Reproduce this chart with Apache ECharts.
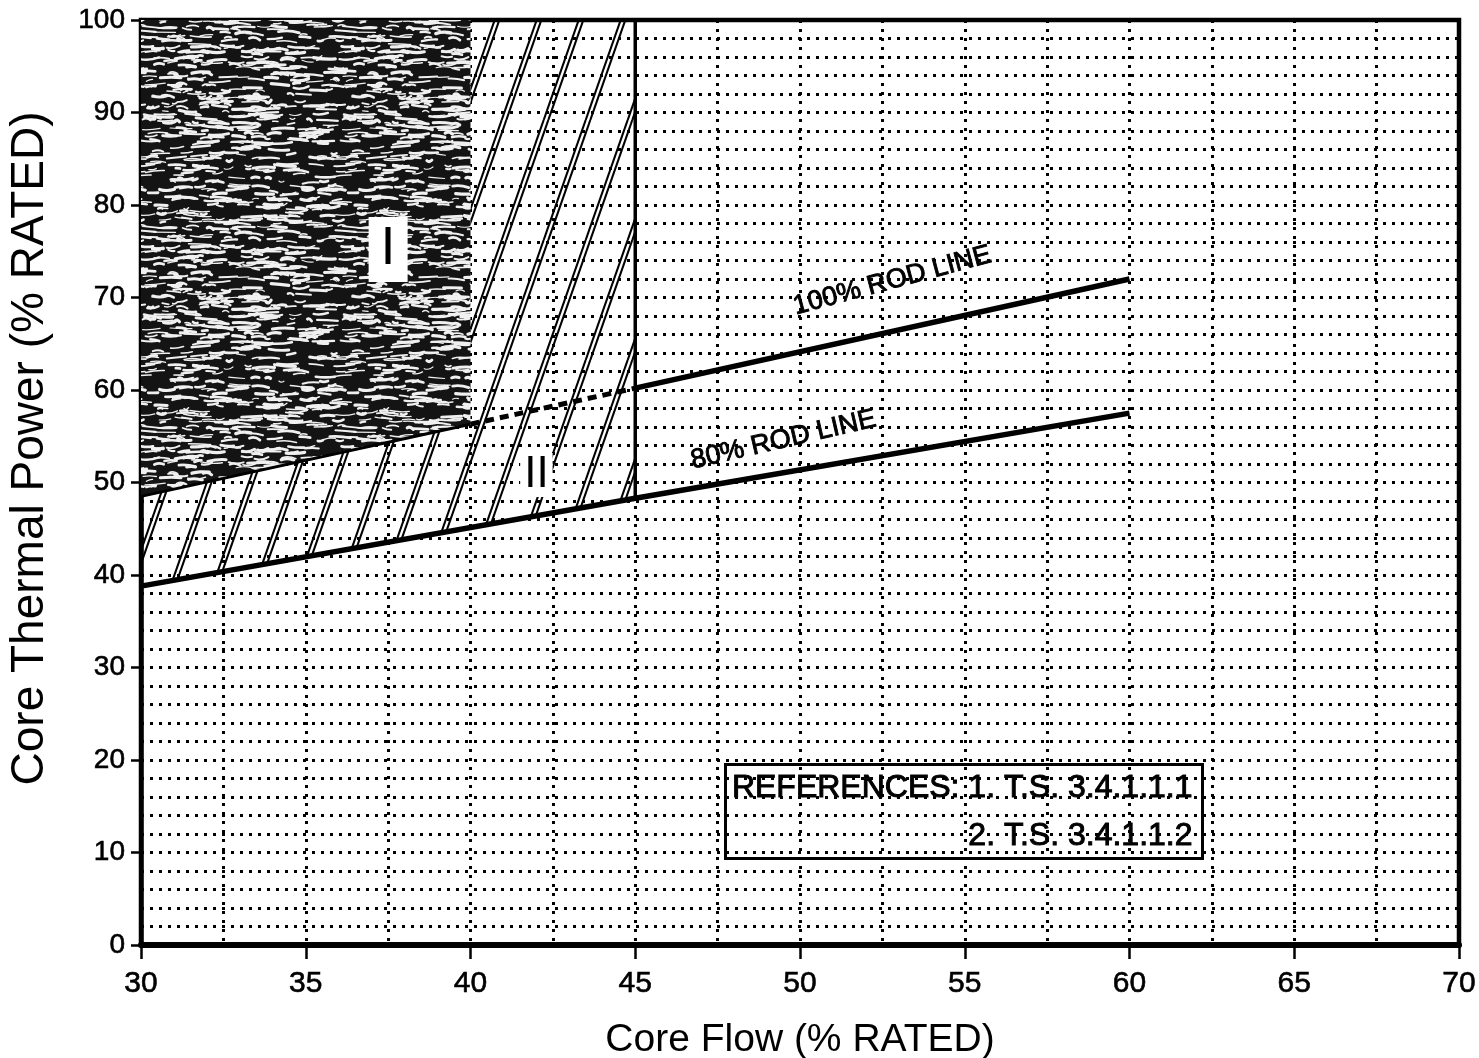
<!DOCTYPE html>
<html><head><meta charset="utf-8">
<script src="https://cdn.jsdelivr.net/npm/echarts@6/dist/echarts.min.js"></script>
<style>html,body{margin:0;padding:0;background:#fff}#c{width:1479px;height:1058px}</style>
</head><body><div id="c"></div>
<script>
// ---- data ----
const rod100X = [30, 40, 45, 60];
const rod100Y = [48.5, 56.3, 60.2, 72.0];
const rod80X = [30, 45, 60];
const rod80Y = [38.8, 48.3, 57.5];
const regionIX = [30, 40, 40, 30];
const regionIY = [48.5, 56.3, 100, 100];
const regionIIX = [30, 45, 45, 40, 40, 30];
const regionIIY = [38.8, 48.3, 100, 100, 56.3, 48.5];
const flowLimitX = [45, 45];
const flowLimitY = [48.3, 100];
const labelNames = ['I', 'II', '100% ROD LINE', '80% ROD LINE'];
const labelX = [37.5, 42.0, 52.8, 49.5];
const labelY = [75.2, 50.8, 71.8, 54.6];
const refLines = ['REFERENCES: 1. T.S. 3.4.1.1.1', '2. T.S. 3.4.1.1.2'];

const FONT = '"Liberation Sans", Arial, sans-serif';

// ---- fill patterns (style only) ----
function makeTexture() {
  const S = 200, c = document.createElement('canvas'); c.width = S; c.height = S;
  const g = c.getContext('2d'); g.fillStyle = '#141414'; g.fillRect(0, 0, S, S);
  let s = 987654; const r = () => { s = (s * 1103515245 + 12345) & 0x7fffffff; return s / 0x7fffffff; };
  g.strokeStyle = '#f0f0f0'; g.lineCap = 'round'; g.lineJoin = 'round';
  for (let i = 0; i < 520; i++) {
    const x = r() * S, y = r() * S, l = 4 + r() * 18, w = 1.1 + r() * 2.2, a = (r() - 0.5) * 5, b = (r() - 0.5) * 4;
    g.lineWidth = w;
    for (const ox of [-S, 0, S]) for (const oy of [-S, 0, S]) {
      g.beginPath(); g.moveTo(x + ox, y + oy);
      g.quadraticCurveTo(x + ox + l / 2, y + oy + a, x + ox + l, y + oy + b); g.stroke();
    }
  }
  return c;
}
function makeHatch() {
  const W = 42, H = 120, c = document.createElement('canvas'); c.width = W; c.height = H;
  const g = c.getContext('2d'); g.strokeStyle = '#000'; g.lineWidth = 2.1;
  for (const dx of [-W, 0, W]) for (const off of [-2.3, 2.3]) {
    g.beginPath(); g.moveTo(dx + off, H); g.lineTo(dx + off + W, 0); g.stroke();
  }
  return c;
}
const texturePattern = { image: makeTexture(), repeat: 'repeat' };
const hatchPattern = { image: makeHatch(), repeat: 'repeat' };

function polyRender(X, Y, fill) {
  return function (params, api) {
    if (params.dataIndex !== 0) return null;
    const pts = X.map((x, i) => api.coord([x, Y[i]]));
    return { type: 'polygon', shape: { points: pts }, style: { fill: fill, stroke: null }, silent: true };
  };
}
const pairs = (X, Y) => X.map((x, i) => [x, Y[i]]);

const dotted = { color: '#000', width: 3, type: [3, 6] };
const heavy = { textBorderColor: '#000', textBorderWidth: 0.6 };
const heavier = { textBorderColor: '#000', textBorderWidth: 0.9 };
const labelStyles = [
  { fontSize: 54, lineHeight: 54, backgroundColor: '#fff', padding: [6, 12, 5, 12] },
  { fontSize: 44, lineHeight: 44, backgroundColor: '#fff', padding: [0, 4, 0, 4] },
  Object.assign({ fontSize: 27, rotate: 15 }, heavier),
  Object.assign({ fontSize: 27, rotate: 13 }, heavier)
];

const chart = echarts.init(document.getElementById('c'), null, { renderer: 'canvas' });
chart.setOption({
  animation: false,
  backgroundColor: '#fff',
  grid: { left: 141, right: 20, top: 20, bottom: 113, outerBoundsMode: 'none', containLabel: false,
    show: true, borderColor: '#000', borderWidth: 4.5, backgroundColor: 'transparent' },
  xAxis: {
    type: 'value', min: 30, max: 70, interval: 5,
    name: 'Core Flow (% RATED)', nameLocation: 'middle', nameGap: 76,
    nameTextStyle: { fontSize: 39, color: '#000', fontFamily: FONT },
    axisLine: { show: true, lineStyle: { color: '#000', width: 6 } },
    axisTick: { show: true, length: 14, lineStyle: { color: '#000', width: 2.5 } },
    axisLabel: Object.assign({ fontSize: 30, color: '#000', margin: 24, fontFamily: FONT }, heavy),
    splitLine: { show: true, lineStyle: dotted },
    minorTick: { show: false, splitNumber: 2 },
    minorSplitLine: { show: true, lineStyle: dotted }
  },
  yAxis: {
    type: 'value', min: 0, max: 100, interval: 10,
    name: 'Core Thermal Power (% RATED)', nameLocation: 'middle', nameGap: 88,
    nameTextStyle: { fontSize: 46, color: '#000', fontFamily: FONT, padding: [0, 0, 0, 68] },
    axisLine: { show: true, lineStyle: { color: '#000', width: 4.5 } },
    axisTick: { show: true, length: 10, lineStyle: { color: '#000', width: 2.5 } },
    axisLabel: Object.assign({ fontSize: 28, color: '#000', margin: 16, fontFamily: FONT }, heavy),
    splitLine: { show: true, lineStyle: dotted },
    minorTick: { show: false, splitNumber: 5 },
    minorSplitLine: { show: true, lineStyle: dotted }
  },
  series: [
    { type: 'custom', name: 'Region II', z: 2, clip: true, renderItem: polyRender(regionIIX, regionIIY, hatchPattern),
      data: pairs(regionIIX, regionIIY), encode: { x: 0, y: 1 } },
    { type: 'custom', name: 'Region I', z: 3, clip: true, renderItem: polyRender(regionIX, regionIY, texturePattern),
      data: pairs(regionIX, regionIY), encode: { x: 0, y: 1 } },
    { type: 'line', name: '80% rod line', z: 4, symbol: 'none', data: pairs(rod80X, rod80Y),
      lineStyle: { color: '#000', width: 5.5 } },
    { type: 'line', name: '100% rod line (edge)', z: 4, symbol: 'none', data: pairs(rod100X.slice(0, 2), rod100Y.slice(0, 2)),
      lineStyle: { color: '#000', width: 3 } },
    { type: 'line', name: '100% rod line (dashed)', z: 4, symbol: 'none', data: pairs(rod100X.slice(1, 3), rod100Y.slice(1, 3)),
      lineStyle: { color: '#000', width: 5, type: [9, 6] } },
    { type: 'line', name: '100% rod line', z: 4, symbol: 'none', data: pairs(rod100X.slice(2), rod100Y.slice(2)),
      lineStyle: { color: '#000', width: 5.5 } },
    { type: 'line', name: 'Flow limit', z: 4, symbol: 'none', data: pairs(flowLimitX, flowLimitY),
      lineStyle: { color: '#000', width: 3.5 } },
    { type: 'scatter', name: 'labels', z: 6, symbolSize: 0, silent: true, itemStyle: { opacity: 1 },
      data: labelNames.map((n, i) => ({
        value: [labelX[i], labelY[i]], name: n,
        label: Object.assign({ show: true, position: 'inside', formatter: n, color: '#000', fontFamily: FONT }, labelStyles[i])
      })) }
  ],
  graphic: [{
    type: 'group', left: 724, top: 763, z: 20,
    children: [
      { type: 'rect', shape: { x: 0, y: 0, width: 477, height: 94 }, style: { fill: '#fff', stroke: '#000', lineWidth: 3 } },
      { type: 'text', x: 467, y: 24,
        style: { text: refLines[0], font: '32px ' + FONT, fill: '#000', stroke: '#000', lineWidth: 1, textAlign: 'right', textVerticalAlign: 'middle' } },
      { type: 'text', x: 467, y: 72,
        style: { text: refLines[1], font: '32px ' + FONT, fill: '#000', stroke: '#000', lineWidth: 1, textAlign: 'right', textVerticalAlign: 'middle' } }
    ]
  }]
});
</script>
</body></html>
